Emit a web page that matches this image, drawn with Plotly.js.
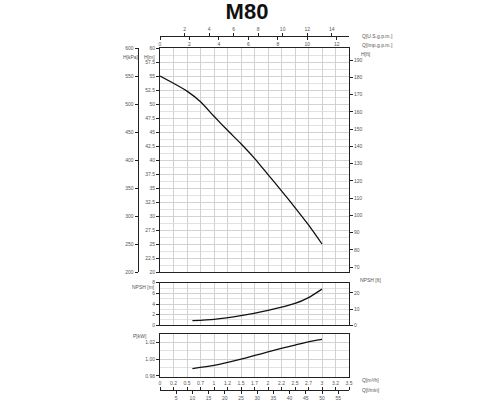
<!DOCTYPE html>
<html>
<head>
<meta charset="utf-8">
<script src="https://cdn.plot.ly/plotly-3.0.1.min.js"></script>
<style>html,body{margin:0;padding:0;background:#fff;}#chart{width:500px;height:400px;}</style>
</head>
<body>
<div id="chart"></div>
<script>
// ---- data ----
const qHead = [0, 0.25, 0.5, 0.75, 1.0, 1.25, 1.5, 1.75, 2.0, 2.25, 2.5, 2.75, 3.0];   // Q [m3/h]
const headM = [55, 53.7, 52.3, 50.4, 47.8, 45.3, 42.9, 40.3, 37.4, 34.5, 31.5, 28.4, 25]; // H [m]
const qNpsh = [0.6, 1.0, 1.5, 2.0, 2.5, 2.75, 3.0];
const npshM = [0.86, 1.1, 1.8, 2.8, 4.1, 5.2, 6.8];
const qPow = [0.6, 1.0, 1.5, 2.0, 2.5, 2.75, 3.0];
const powKW = [0.9887, 0.9925, 1.000, 1.009, 1.017, 1.021, 1.024];

const qM3hTicks = [0, 0.25, 0.5, 0.75, 1, 1.25, 1.5, 1.75, 2, 2.25, 2.5, 2.75, 3, 3.25, 3.5];
const qM3hText = ["0", "0.2", "0.5", "0.7", "1", "1.2", "1.5", "1.7", "2", "2.2", "2.5", "2.7", "3", "3.2", "3.5"];
const qLminTicks = [5, 10, 15, 20, 25, 30, 35, 40, 45, 50, 55];
const qUsTicks = [2, 4, 6, 8, 10, 12, 14];
const qImpTicks = [0, 2, 4, 6, 8, 10, 12];
const hFtTicks = [70, 80, 90, 100, 110, 120, 130, 140, 150, 160, 170, 180, 190];
const npshFtTicks = [0, 10, 20];
const powTicks = [0.98, 1.00, 1.02];
const powText = ["0.98", "1.00", "1.02"];

// ---- unit ranges ----
const qMax = 3.5;
const US = 4.4029, IMP = 3.6662, LMIN = 1000 / 60;

// ---- layout helpers (pixel -> paper) ----
const W = 500, H = 400;
const px = v => v / W, py = v => 1 - v / H;
const X0 = 160, X1 = 349;
const xDom = [px(X0), px(X1)];

const tf = {family: 'Liberation Sans, Arial, sans-serif', size: 5, color: '#555'};
const lineC = '#222';
const gridC = '#d2d2d2';

const curve = {color: '#111', width: 1.3, shape: 'spline', smoothing: 0.6};

const data = [
  {x: qHead, y: headM, xaxis: 'x', yaxis: 'y', mode: 'lines', line: curve, hoverinfo: 'skip'},
  {x: qNpsh, y: npshM, xaxis: 'x2', yaxis: 'y4', mode: 'lines', line: curve, hoverinfo: 'skip'},
  {x: qPow, y: powKW, xaxis: 'x3', yaxis: 'y6', mode: 'lines', line: curve, hoverinfo: 'skip'},
  // placeholders to register the extra axes
  {x: [null], y: [null], xaxis: 'x', yaxis: 'y2', showlegend: false, hoverinfo: 'skip'},
  {x: [null], y: [null], xaxis: 'x', yaxis: 'y3', showlegend: false, hoverinfo: 'skip'},
  {x: [null], y: [null], xaxis: 'x2', yaxis: 'y5', showlegend: false, hoverinfo: 'skip'},
  {x: [null], y: [null], xaxis: 'x4', yaxis: 'y', showlegend: false, hoverinfo: 'skip'},
  {x: [null], y: [null], xaxis: 'x5', yaxis: 'y', showlegend: false, hoverinfo: 'skip'},
  {x: [null], y: [null], xaxis: 'x6', yaxis: 'y', showlegend: false, hoverinfo: 'skip'},
  {x: [null], y: [null], xaxis: 'x7', yaxis: 'y', showlegend: false, hoverinfo: 'skip'}
];

const plotX = (anchor) => ({
  domain: xDom, anchor: anchor, range: [0, qMax], dtick: 0.25, tick0: 0,
  showticklabels: false, ticks: '', showgrid: true, gridcolor: gridC, gridwidth: 1,
  showline: true, linecolor: lineC, linewidth: 1, mirror: true, zeroline: false, fixedrange: true
});

const layout = {
  width: W, height: H,
  margin: {l: 0, r: 0, t: 0, b: 0},
  paper_bgcolor: '#fff', plot_bgcolor: '#fff',
  showlegend: false,
  title: {text: '<b>M80</b>', x: px(247), xanchor: 'center', y: py(11), yanchor: 'middle',
          font: {family: 'Liberation Sans, Arial, sans-serif', size: 22, color: '#111'}},
  xaxis: plotX('y'),
  xaxis2: plotX('y4'),
  xaxis3: plotX('y6'),
  // bottom flow axes
  xaxis4: {overlaying: 'x', anchor: 'free', position: py(390.3), side: 'top', range: [0, qMax],
           tickvals: qM3hTicks, ticktext: qM3hText, ticks: 'outside', ticklen: 3, tickcolor: lineC,
           showline: true, linecolor: lineC, linewidth: 1, showgrid: false, zeroline: false, tickfont: tf},
  xaxis5: {overlaying: 'x', anchor: 'free', position: py(390.3), side: 'bottom', range: [0, qMax * LMIN],
           tickvals: qLminTicks, ticks: 'outside', ticklen: 3, tickcolor: lineC,
           showline: false, showgrid: false, zeroline: false, tickfont: tf},
  // top flow axes
  xaxis6: {overlaying: 'x', anchor: 'free', position: py(35.7), side: 'top', range: [0, qMax * US],
           tickvals: qUsTicks, ticks: 'outside', ticklen: 3, tickcolor: lineC,
           showline: true, linecolor: lineC, linewidth: 1, showgrid: false, zeroline: false, tickfont: tf},
  xaxis7: {overlaying: 'x', anchor: 'free', position: py(35.7), side: 'bottom', range: [0, qMax * IMP],
           tickvals: qImpTicks, ticks: 'outside', ticklen: 3, tickcolor: lineC,
           showline: false, showgrid: false, zeroline: false, tickfont: tf},
  // head
  yaxis: {domain: [py(272), py(48)], anchor: 'x', range: [20, 60], dtick: 2.5, tick0: 20,
          ticks: 'outside', ticklen: 3, tickcolor: lineC, showline: true, linecolor: lineC, mirror: true,
          showgrid: true, gridcolor: gridC, zeroline: false, tickfont: tf,
          minor: {dtick: 1.25, showgrid: true, gridcolor: '#e2e2e2', ticks: ''}},
  yaxis2: {overlaying: 'y', anchor: 'free', position: px(137.5), side: 'left', range: [200, 600], dtick: 50,
           ticks: 'outside', ticklen: 3, tickcolor: lineC, showline: true, linecolor: lineC,
           showgrid: false, zeroline: false, tickfont: tf},
  yaxis3: {overlaying: 'y', anchor: 'x', side: 'right', range: [67.1, 197], tickvals: hFtTicks,
           ticks: 'outside', ticklen: 3, tickcolor: lineC, showline: true, linecolor: lineC,
           showgrid: false, zeroline: false, tickfont: tf},
  // NPSH
  yaxis4: {domain: [py(325.3), py(282.7)], anchor: 'x2', range: [0, 8], dtick: 2,
           ticks: 'outside', ticklen: 3, tickcolor: lineC, showline: true, linecolor: lineC, mirror: true,
           showgrid: true, gridcolor: gridC, zeroline: false, tickfont: tf,
           minor: {dtick: 1, showgrid: true, gridcolor: '#e2e2e2', ticks: ''}},
  yaxis5: {overlaying: 'y4', anchor: 'x2', side: 'right', range: [0, 26.25], tickvals: npshFtTicks,
           ticks: 'outside', ticklen: 3, tickcolor: lineC, showline: true, linecolor: lineC,
           showgrid: false, zeroline: false, tickfont: tf},
  // power
  yaxis6: {domain: [py(376.7), py(334.3)], anchor: 'x3', range: [0.979, 1.030], tickvals: powTicks, ticktext: powText,
           ticks: 'outside', ticklen: 3, tickcolor: lineC, showline: true, linecolor: lineC, mirror: true,
           showgrid: true, gridcolor: gridC, zeroline: false, tickfont: tf,
           minor: {dtick: 0.01, showgrid: true, gridcolor: '#e2e2e2', ticks: ''}},
  annotations: [
    {text: 'H[kPa]', x: px(121), y: py(52), xref: 'paper', yref: 'paper', showarrow: false, font: tf},
    {text: 'H[m]', x: px(142), y: py(52), xref: 'paper', yref: 'paper', showarrow: false, font: tf},
    {text: 'H[ft]', x: px(359), y: py(49), xref: 'paper', yref: 'paper', xanchor: 'left', showarrow: false, font: tf},
    {text: 'Q[U.S.g.p.m.]', x: px(360), y: py(31), xref: 'paper', yref: 'paper', xanchor: 'left', showarrow: false, font: tf},
    {text: 'Q[Imp.g.p.m.]', x: px(360), y: py(40), xref: 'paper', yref: 'paper', xanchor: 'left', showarrow: false, font: tf},
    {text: 'NPSH [m]', x: px(130), y: py(292), xref: 'paper', yref: 'paper', showarrow: false, font: tf},
    {text: 'NPSH [ft]', x: px(358), y: py(285), xref: 'paper', yref: 'paper', xanchor: 'left', showarrow: false, font: tf},
    {text: 'P[kW]', x: px(131), y: py(341), xref: 'paper', yref: 'paper', showarrow: false, font: tf},
    {text: 'Q[m³/h]', x: px(360), y: py(385), xref: 'paper', yref: 'paper', xanchor: 'left', showarrow: false, font: tf},
    {text: 'Q[l/min]', x: px(360), y: py(395), xref: 'paper', yref: 'paper', xanchor: 'left', showarrow: false, font: tf}
  ]
};

Plotly.newPlot('chart', data, layout, {staticPlot: true, displayModeBar: false});
</script>
</body>
</html>
